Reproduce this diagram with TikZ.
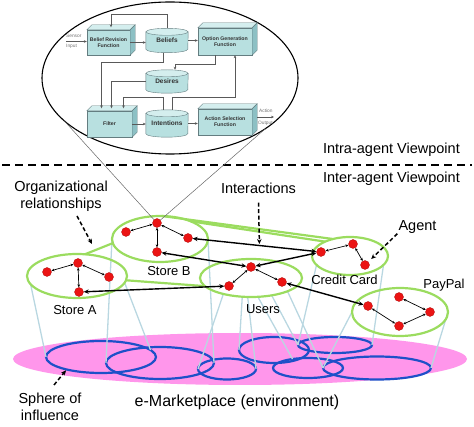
\documentclass[tikz,border=0pt]{standalone}
\usepackage{fontspec}
\setmainfont{Liberation Sans}
\usetikzlibrary{shapes.geometric,arrows.meta,calc}
\pgfdeclarelayer{bg}
\pgfsetlayers{bg,main}
\definecolor{boxfront}{RGB}{184,224,224}
\definecolor{boxtop}{RGB}{212,238,238}
\definecolor{boxside}{RGB}{140,192,196}
\definecolor{boxline}{RGB}{100,125,128}
\definecolor{grp}{RGB}{155,220,95}
\definecolor{sph}{RGB}{30,80,200}
\definecolor{env}{RGB}{255,150,235}
\definecolor{proj}{RGB}{185,215,225}
\definecolor{agentred}{RGB}{235,20,20}
\newcommand\boxfaces[1]{%
  \filldraw[draw=boxline,fill=boxtop,line width=0.4pt] (#1.north west) -- ([shift={(5pt,5pt)}]#1.north west) -- ([shift={(5pt,5pt)}]#1.north east) -- (#1.north east) -- cycle;
  \filldraw[draw=boxline,fill=boxside,line width=0.4pt] (#1.north east) -- ([shift={(5pt,5pt)}]#1.north east) -- ([shift={(5pt,5pt)}]#1.south east) -- (#1.south east) -- cycle;}
\newcommand\cylbody[1]{%
  \filldraw[draw=boxline,fill=boxfront,line width=0.4pt] (#1.north west) -- (#1.south west) arc[start angle=180,end angle=360,x radius=21pt,y radius=3.5pt] -- (#1.north east) -- cycle;
  \filldraw[draw=boxline,fill=boxtop,line width=0.4pt] (#1.north) ellipse[x radius=21pt,y radius=3.5pt];}
\begin{document}
\begin{tikzpicture}[x=1pt,y=-1pt,
  lbl/.style={inner sep=0pt,font=\fontsize{14.5}{17.5}\selectfont,align=center},
  glbl/.style={inner sep=0pt,font=\fontsize{13}{15}\selectfont},
  fbox/.style={rectangle,draw=boxline,fill=boxfront,line width=0.4pt,align=center,inner sep=0pt,font=\fontsize{5.2}{6}\selectfont\bfseries,text=black!80},
  cylnode/.style={rectangle,inner sep=0pt,minimum width=42pt,font=\fontsize{6.5}{7}\selectfont\bfseries,text=black!80},
  smalltxt/.style={anchor=west,inner sep=0pt,font=\fontsize{4.8}{5}\selectfont,text=black!55},
  iarrow/.style={draw=black!65,line width=0.6pt,-{Stealth[length=3pt,width=2.6pt]}},
  dot/.style={circle,fill=agentred,draw=agentred!75!black,line width=0.3pt,minimum size=9pt,inner sep=0pt},
  grpell/.style={ellipse,draw=grp,line width=2.2pt,inner sep=0pt,outer sep=0pt},
  grline/.style={draw=grp,line width=2.2pt},
  sphell/.style={ellipse,draw=sph,line width=2.2pt,inner sep=0pt,outer sep=0pt},
  projline/.style={draw=proj,line width=1.3pt},
  thinarr/.style={draw=black,line width=0.7pt,{Stealth[length=3pt,width=2.6pt]}-{Stealth[length=3pt,width=2.6pt]}},
  thickarr/.style={draw=black,line width=1.4pt,{Stealth[length=5pt,width=4.4pt]}-{Stealth[length=5pt,width=4.4pt]}},
  darrow/.style={draw=black,line width=1.5pt,dash pattern=on 4pt off 2.5pt,-{Stealth[length=5pt,width=4.5pt]}},
  zoomline/.style={draw=black!60,line width=0.5pt}
]
\useasboundingbox (0,0) rectangle (474,427);

% ---------- inset: BDI architecture ----------
\node[ellipse,draw=black,line width=1.1pt,minimum width=256pt,minimum height=152pt,inner sep=0pt,outer sep=0pt] (bdi) at (170,78) {};

\node[fbox,minimum width=43pt,minimum height=25pt] (brf) at (108.5,42.5) {Belief Revision\\Function};
\node[fbox,minimum width=54pt,minimum height=27pt] (ogf) at (225,41.5) {Option Generation\\Function};
\node[fbox,minimum width=45pt,minimum height=26pt] (filt) at (109.5,124) {Filter};
\node[fbox,minimum width=54pt,minimum height=26pt] (asf) at (225,122) {Action Selection\\Function};
\boxfaces{brf}\boxfaces{ogf}\boxfaces{filt}\boxfaces{asf}

\node[cylnode,minimum height=17pt] (bel) at (167,40.5) {Beliefs};
\node[cylnode,minimum height=16pt] (des) at (167,81.5) {Desires};
\node[cylnode,minimum height=20pt] (intn) at (167,123.5) {Intentions};
\begin{pgfonlayer}{bg}
\cylbody{bel}\cylbody{des}\cylbody{intn}
\end{pgfonlayer}

\node[smalltxt] (sen) at (66,35.5) {Sensor};
\node[smalltxt] (inp) at (66,46.5) {Input};
\coordinate (sinS) at (66,41.5);
\draw[iarrow] (sinS) -- (sinS -| brf.west);

\node[smalltxt] (act) at (259,111) {Action};
\node[smalltxt] (outp) at (258,123) {Output};
\coordinate (aoS) at (257,117);
\coordinate (aoE) at (274,117);
\draw[iarrow] (aoS) -- (aoE);

\draw[iarrow] (brf.east) -- (brf.east -| bel.west);
\draw[iarrow] (bel.east) -- (bel.east -| ogf.west);
\draw[iarrow] ([yshift=3.5pt]bel.north) -- ++(0,-13.5) -| ([shift={(2.5pt,2.5pt)}]brf.north);
\draw[iarrow] ([xshift=-4pt,yshift=-3.5pt]bel.south) -- ++(0,10) -| ([shift={(-8pt,2.5pt)}]filt.north);
\draw[iarrow] ([xshift=-10pt]ogf.south) -- ++(0,9) -| ([xshift=8pt,yshift=3.5pt]des.north);
\draw[iarrow] (des.west) -| ([shift={(2pt,2.5pt)}]filt.north);
\draw[iarrow] ([xshift=-4pt,yshift=3.5pt]intn.north) -- ++(0,-12) -| ([shift={(14pt,2.5pt)}]filt.north);
\draw[iarrow] ([xshift=5pt,yshift=3.5pt]intn.north) -- ++(0,-12) -| ([xshift=10pt]ogf.south);
\draw[iarrow] (filt.east) -- (filt.east -| intn.west);
\draw[iarrow] (intn.east) -- (intn.east -| asf.west);

% ---------- viewpoint separator ----------
\node[lbl,anchor=east] (intra) at (460,150) {Intra-agent Viewpoint};
\node[lbl,anchor=east] (inter) at (460,179) {Inter-agent Viewpoint};
\coordinate (dl) at (2,165);
\coordinate (dr) at (472,165);
\draw[line width=1.6pt,dash pattern=on 8pt off 5pt] (dl) -- (dr);

% ---------- agent groups ----------
\node[grpell,minimum width=96pt,minimum height=46pt] (gSB) at (160,239) {};
\node[grpell,minimum width=100pt,minimum height=44pt] (gSA) at (77,276) {};
\node[grpell,minimum width=102pt,minimum height=38pt] (gU) at (251,278) {};
\node[grpell,minimum width=76pt,minimum height=38pt] (gCC) at (350,256) {};
\node[grpell,minimum width=96pt,minimum height=48pt] (gPP) at (400,312) {};
\draw[grline] (gSA.70) -- (gSB.185);
\draw[grline] (gSA.-5) -- (gU.190);
\draw[grline] (gSB.85) -- (gCC.135);
\draw[grline] (gSB.30) -- (gCC.150);

% ---------- environment ----------
\begin{pgfonlayer}{bg}
\node[ellipse,fill=env,inner sep=0pt,minimum width=454pt,minimum height=52pt] (env) at (240,359) {};
\node[sphell,minimum width=110pt,minimum height=32pt] (b1) at (101,357) {};
\node[sphell,minimum width=108pt,minimum height=32pt] (b2) at (160,363) {};
\node[sphell,minimum width=58pt,minimum height=21pt] (b3) at (227,369) {};
\node[sphell,minimum width=70pt,minimum height=26pt] (b4) at (274,350) {};
\node[sphell,minimum width=74pt,minimum height=16pt] (b5) at (335,345) {};
\node[sphell,minimum width=70pt,minimum height=20pt] (b6) at (308,368) {};
\node[sphell,minimum width=108pt,minimum height=23pt] (b7) at (377,368) {};
\draw[projline] (gSA.190) -- (b1.west);
\draw[projline] (gSA.-8) -- (b1.8);
\draw[projline] (gSB.west) -- (b2.west);
\draw[projline] (gSB.east) -- (b2.east);
\draw[projline] (gU.-150) -- (b3.west);
\draw[projline] (gU.-115) -- (b4.west);
\draw[projline] (gU.-100) -- (b3.east);
\draw[projline] (gU.-70) -- (b6.150);
\draw[projline] (gU.-40) -- (b5.west);
\draw[projline] (gU.-20) -- (b7.west);
\draw[projline] (gCC.195) -- (b5.west);
\draw[projline] (gCC.-15) -- (b5.east);
\draw[projline] (gPP.west) -- (b7.west);
\draw[projline] (gPP.east) -- (b7.east);
\end{pgfonlayer}

% ---------- agents ----------
\node[dot] (sbT) at (157,223) {};
\node[dot] (sbL) at (126,232) {};
\node[dot] (sbR) at (188,238) {};
\node[dot] (sbB) at (157,252) {};
\node[dot] (saT) at (78,263) {};
\node[dot] (saL) at (47,272) {};
\node[dot] (saR) at (109,277) {};
\node[dot] (saB) at (79,292) {};
\node[dot] (uT) at (251,267) {};
\node[dot] (uL) at (229,286) {};
\node[dot] (uR) at (282,282) {};
\node[dot] (ccL) at (321,252) {};
\node[dot] (ccT) at (353,244) {};
\node[dot] (ccR) at (365,265) {};
\node[dot] (ppL) at (368,306) {};
\node[dot] (ppT) at (399,297) {};
\node[dot] (ppR) at (430,312) {};
\node[dot] (ppB) at (399,326) {};

\draw[zoomline] (bdi.202) -- (sbT);
\draw[zoomline] (bdi.-28) -- (sbT);

\draw[thinarr] (sbT) -- (sbL);
\draw[thinarr] (sbT) -- (sbR);
\draw[thinarr] (sbT) -- (sbB);
\draw[thinarr] (saT) -- (saL);
\draw[thinarr] (saT) -- (saR);
\draw[thinarr] (saT) -- (saB);
\draw[thinarr] (uT) -- (uL);
\draw[thinarr] (uT) -- (uR);
\draw[thinarr] (ccL) -- (ccT);
\draw[thinarr] (ccT) -- (ccR);
\draw[thinarr] (ppL) -- (ppB);
\draw[thinarr] (ppB) -- (ppR);
\draw[thinarr] (ppR) -- (ppT);

\draw[thickarr] (sbR) -- coordinate[pos=0.54] (itip) (ccL);
\draw[thickarr] (sbB) -- (uT);
\draw[thickarr] (ccL) -- (uT);
\draw[thickarr] (saB) -- (uL);
\draw[thickarr] (uR) -- (ppL);

% ---------- labels ----------
\node[lbl] (org) at (61,196.5) {Organizational\\relationships};
\node[lbl] (interact) at (258.5,188) {Interactions};
\node[lbl] (agentlbl) at (417.5,227) {Agent};
\node[glbl] (lsb) at (169,271) {Store B};
\node[glbl] (lsa) at (75,310) {Store A};
\node[glbl] (lcc) at (344.5,280) {Credit Card};
\node[glbl] (lpp) at (444,285) {PayPal};
\node[glbl] (lu) at (263,309) {Users};
\node[inner sep=0pt,font=\fontsize{16}{18}\selectfont] (emkt) at (237,402) {e-Marketplace (environment)};
\node[lbl] (sphl) at (50,407) {Sphere of\\influence};

\coordinate (orgS) at (77,216);
\coordinate (orgT) at (92,244);
\draw[darrow] (orgS) -- (orgT);
\draw[darrow,shorten >=1.5pt] ([yshift=-9pt]interact.south) -- (itip);
\draw[darrow,shorten >=4pt] ([xshift=-1pt]agentlbl.south west) -- (ccR);
\coordinate (sphS) at (54,385);
\draw[darrow,shorten >=1pt] (sphS) -- (b1.200);
\end{tikzpicture}
\end{document}
